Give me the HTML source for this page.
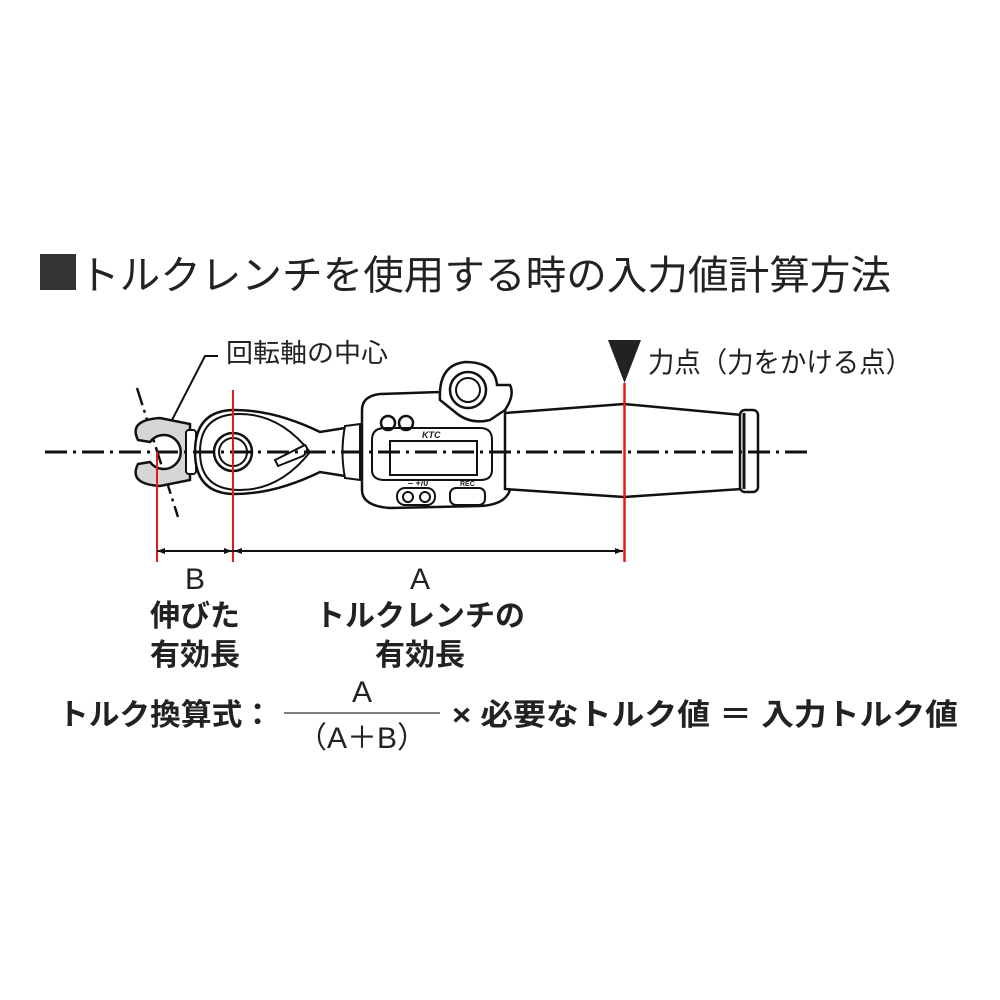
<!DOCTYPE html>
<html><head><meta charset="utf-8"><style>
html,body{margin:0;padding:0;background:#fff;width:1000px;height:1000px;overflow:hidden}
svg{display:block}
text{font-family:"Liberation Sans","Noto Sans CJK JP",sans-serif;fill:#222}
</style></head><body>
<svg width="1000" height="1000" viewBox="0 0 1000 1000">
<rect x="40" y="254" width="36" height="36" fill="#333"/>
<text x="79" y="289" font-size="40" textLength="812" lengthAdjust="spacingAndGlyphs">トルクレンチを使用する時の入力値計算方法</text>

<!-- leader -->
<text x="226" y="362" font-size="26" textLength="162" lengthAdjust="spacingAndGlyphs">回転軸の中心</text>
<polyline points="218,356 205,356 172,420" fill="none" stroke="#111" stroke-width="2"/>
<line x1="137" y1="388" x2="178" y2="517" stroke="#111" stroke-width="2.5" stroke-dasharray="18,5,3,5"/>

<!-- open-end head -->
<path d="M138,440 Q128,420 160,418 L190,424 L190,480 L160,486 Q128,484 138,464 L150,462 A17,17 0 1 0 150,442 Z" fill="#d6d6d6" stroke="#111" stroke-width="2.5"/>
<rect x="186" y="430" width="10" height="44" rx="3" fill="#fff" stroke="#111" stroke-width="2"/>

<!-- ratchet head & body -->
<path d="M195,452 Q195,410 235,410 Q275,410 320,432 L345,428 L345,476 L320,472 Q275,494 235,494 Q195,494 195,452 Z" fill="#fff" stroke="#111" stroke-width="2.5"/>
<path d="M200,452 Q200,414 240,414 Q280,414 310,452 Q280,490 240,490 Q200,490 200,452 Z" fill="none" stroke="#111" stroke-width="2"/>
<circle cx="233" cy="452" r="19" fill="none" stroke="#111" stroke-width="2.5"/>
<circle cx="233" cy="452" r="14" fill="none" stroke="#111" stroke-width="2"/>
<path d="M275,460 L305,445 Q310,450 303,456 L278,466 Z" fill="#fff" stroke="#111" stroke-width="2"/>
<path d="M345,426 Q340,452 345,478 L360,480 L360,424 Z" fill="#fff" stroke="#111" stroke-width="2"/>

<!-- display body -->
<path d="M362,410 Q362,396 380,394 L440,392 Q470,388 490,395 L505,410 L510,490 Q505,505 480,506 L390,508 Q362,506 362,490 Z" fill="#fff" stroke="#111" stroke-width="2.5"/>
<path d="M372,440 Q372,428 385,428 L480,428 Q492,428 492,440 L492,470 Q492,480 480,480 L385,480 Q372,480 372,470 Z" fill="none" stroke="#111" stroke-width="2"/>
<rect x="390" y="441" width="87" height="34" fill="#fff" stroke="#111" stroke-width="2"/>
<circle cx="388" cy="423" r="7" fill="none" stroke="#111" stroke-width="2.5"/>
<circle cx="406" cy="423" r="7" fill="none" stroke="#111" stroke-width="2.5"/>
<text x="422" y="438" font-size="9" font-weight="bold" font-style="italic">KTC</text>
<text x="408" y="486" font-size="9" font-weight="bold">– +/0</text>
<text x="460" y="486" font-size="7" font-weight="bold">REC</text>
<rect x="397" y="488" width="38" height="17" rx="8" fill="none" stroke="#111" stroke-width="2"/>
<circle cx="408" cy="497" r="5" fill="none" stroke="#111" stroke-width="2"/>
<circle cx="425" cy="497" r="5" fill="none" stroke="#111" stroke-width="2"/>
<rect x="450" y="488" width="35" height="17" rx="6" fill="none" stroke="#111" stroke-width="2"/>
<path d="M440,400 Q438,365 465,362 Q495,362 497,385 L510,385 Q515,395 505,410 L490,420 Q470,425 455,412 Z" fill="#fff" stroke="#111" stroke-width="2.5"/>
<circle cx="468" cy="390" r="18" fill="none" stroke="#111" stroke-width="2.5"/>
<circle cx="468" cy="390" r="12" fill="none" stroke="#111" stroke-width="2"/>

<!-- handle -->
<path d="M505,413 L624,404 L742,415 L742,489 L624,497 L505,489 Z" fill="#fff" stroke="#111" stroke-width="2.5"/>
<rect x="740" y="410" width="18" height="82" rx="5" fill="#fff" stroke="#111" stroke-width="2.5"/>
<line x1="744" y1="413" x2="744" y2="489" stroke="#111" stroke-width="3"/>

<line x1="45" y1="452" x2="813" y2="452" stroke="#111" stroke-width="3" stroke-dasharray="22,6,3,6"/>

<line x1="157" y1="452" x2="157" y2="562" stroke="#e31b1b" stroke-width="2"/>
<line x1="233" y1="390" x2="233" y2="562" stroke="#e31b1b" stroke-width="2"/>
<line x1="624.5" y1="383" x2="624.5" y2="562" stroke="#e31b1b" stroke-width="2.5"/>
<polygon points="608,340 641,340 624.5,383" fill="#222"/>
<text x="648" y="372" font-size="28" textLength="264" lengthAdjust="spacingAndGlyphs">力点（力をかける点）</text>

<line x1="157" y1="551" x2="623" y2="551" stroke="#111" stroke-width="2"/>
<polygon points="157,551 165,548 165,554" fill="#111"/>
<polygon points="232,551 224,548 224,554" fill="#111"/>
<polygon points="234,551 242,548 242,554" fill="#111"/>
<polygon points="623,551 615,548 615,554" fill="#111"/>

<g font-size="30" font-weight="bold" text-anchor="middle">
<text x="195" y="589" font-weight="normal">B</text>
<text x="195" y="626">伸びた</text>
<text x="195" y="665">有効長</text>
<text x="420" y="589" font-weight="normal">A</text>
<text x="420" y="626">トルクレンチの</text>
<text x="420" y="665">有効長</text>
</g>

<g font-size="30" font-weight="bold">
<text x="58" y="725" textLength="215" lengthAdjust="spacingAndGlyphs">トルク換算式：</text>
<text x="362" y="702" text-anchor="middle" font-weight="normal">A</text>
<line x1="284" y1="713" x2="440" y2="713" stroke="#555" stroke-width="1.5"/>
<text x="362" y="748" text-anchor="middle" font-weight="normal">（A＋B）</text>
<text x="452" y="725" textLength="506" lengthAdjust="spacingAndGlyphs">× 必要なトルク値 ＝ 入力トルク値</text>
</g>
</svg>
</body></html>
